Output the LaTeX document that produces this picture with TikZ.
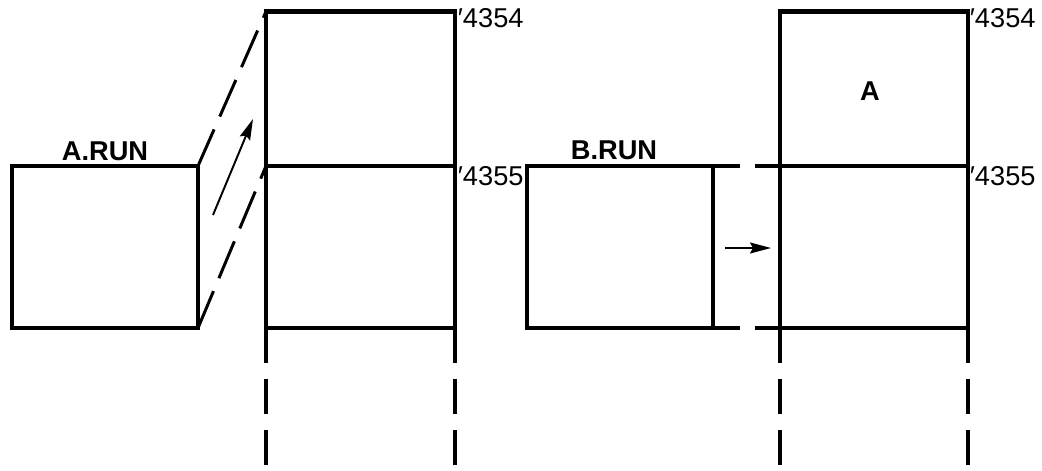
\documentclass[tikz,border=0pt]{standalone}
\usepackage{fontspec}
\setmainfont{Liberation Sans}
\usetikzlibrary{arrows.meta}

\tikzset{
  wall/.style={line width=2.3pt},
  guide/.style={line width=1.7pt,dash pattern=on 0.8cm off 0.28cm},
  tail/.style={line width=1.8pt,dash pattern=on 0.7cm off 0.32cm},
  move/.style={line width=1.1pt,-{Stealth[length=0.42cm,width=0.22cm,inset=0.06cm]}},
  addr/.style={anchor=base west},
  runname/.style={anchor=base,font=\fontsize{15.5}{18}\selectfont\bfseries},
}

\begin{document}
\begin{tikzpicture}[x=1cm,y=1cm,every node/.style={font=\fontsize{15.5}{18}\selectfont,inner sep=0pt}]
  \useasboundingbox (0,0) rectangle (20.84,9.4);
  % A.RUN program
  \coordinate (asw) at (0.24,2.84);
  \coordinate (ase) at (3.96,2.84);
  \coordinate (ane) at (3.96,6.08);
  \draw[wall] (asw) rectangle (ane);
  \node[runname] (arun) at (2.10,6.20) {A.RUN};
  % memory before loading
  \coordinate (lnw) at (5.32,9.17);
  \coordinate (lne) at (9.10,9.17);
  \coordinate (lw) at (5.32,6.08);
  \coordinate (le) at (9.10,6.08);
  \coordinate (lsw) at (5.32,2.84);
  \coordinate (lse) at (9.10,2.84);
  \draw[wall] (lsw) rectangle (lne);
  \draw[wall] (lw) -- (le);
  \coordinate (lswend) at (5.32,-0.1);
  \coordinate (lseend) at (9.10,-0.1);
  \draw[tail] (lsw) -- (lswend);
  \draw[tail] (lse) -- (lseend);
  \node[addr] (ltop) at (9.15,8.84) {′4354};
  \node[addr] (lmid) at (9.15,5.70) {′4355};
  \draw[guide] (ane) -- (lnw);
  \draw[guide] (ase) -- (lw);
  \coordinate (aup0) at (4.26,5.10);
  \coordinate (aup1) at (5.06,7.02);
  \draw[move] (aup0) -- (aup1);
  % B.RUN program
  \coordinate (bsw) at (10.54,2.84);
  \coordinate (bne) at (14.26,6.08);
  \coordinate (bse) at (14.26,2.84);
  \draw[wall] (bsw) rectangle (bne);
  \coordinate (bnx) at (14.80,6.08);
  \coordinate (bsx) at (14.80,2.84);
  \draw[wall] (bne) -- (bnx);
  \draw[wall] (bse) -- (bsx);
  \node[runname] (brun) at (12.28,6.22) {B.RUN};
  % memory after loading
  \coordinate (rnw) at (15.60,9.17);
  \coordinate (rne) at (19.36,9.17);
  \coordinate (rw) at (15.60,6.08);
  \coordinate (re) at (19.36,6.08);
  \coordinate (rsw) at (15.60,2.84);
  \coordinate (rse) at (19.36,2.84);
  \draw[wall] (rsw) rectangle (rne);
  \draw[wall] (15.10,6.08) -- (re);
  \draw[wall] (15.10,2.84) -- (rsw);
  \coordinate (rswend) at (15.60,-0.1);
  \coordinate (rseend) at (19.36,-0.1);
  \draw[tail] (rsw) -- (rswend);
  \draw[tail] (rse) -- (rseend);
  \node[addr] (rtop) at (19.39,8.84) {′4354};
  \node[addr] (rmid) at (19.39,5.70) {′4355};
  \node[font=\fontsize{15.5}{18}\selectfont\bfseries] (atag) at (17.40,7.58) {A};
  \coordinate (bin0) at (14.50,4.44);
  \coordinate (bin1) at (15.42,4.44);
  \draw[move] (bin0) -- (bin1);
\end{tikzpicture}
\end{document}
